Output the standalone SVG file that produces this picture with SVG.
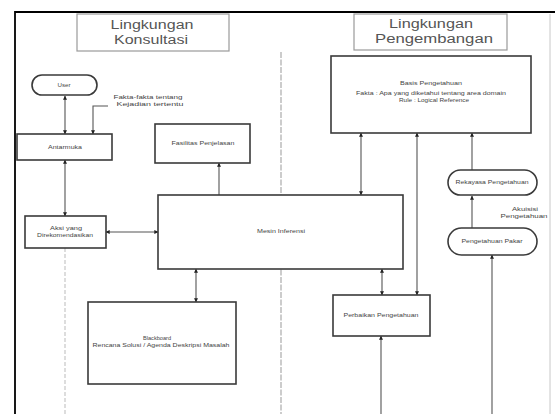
<svg xmlns="http://www.w3.org/2000/svg" width="555" height="414" viewBox="0 0 555 414">
<style>
.box{fill:#fff;stroke:#3a3a3a;stroke-width:1.6}
.title{fill:#fff;stroke:#9a9a9a;stroke-width:1.2}
.tt{font-family:"Liberation Sans",Arial,sans-serif;font-size:12.5px;fill:#555;text-anchor:middle}
.t{font-family:"Liberation Sans",Arial,sans-serif;font-size:4.8px;fill:#444;text-anchor:middle}
.c{fill:none;stroke:#555;stroke-width:1.1}
.b{fill:none;stroke:#000;stroke-width:1.8}
</style>
<defs>
<marker id="ah" viewBox="0 0 6 6" refX="5.5" refY="3" markerWidth="4" markerHeight="4" markerUnits="userSpaceOnUse" orient="auto-start-reverse">
<path d="M0,0 L6,3 L0,6 z" fill="#222"/>
</marker>
</defs>
<rect width="555" height="414" fill="#fff"/>
<g id="frame">
<path class="b" d="M15,414 V12 H555"/>
<line x1="550" y1="14" x2="550" y2="414" stroke="#c8c8c8" stroke-width="1"/>
<line x1="281" y1="52" x2="281" y2="414" stroke="#999" stroke-width="1" stroke-dasharray="6,1.5"/>
<line x1="65" y1="248" x2="65" y2="414" stroke="#bbb" stroke-width="1" stroke-dasharray="4,2"/>
</g>
<g id="title-konsultasi">
<rect class="title" x="77" y="14" width="152" height="37"/>
<text class="tt" x="152" y="29" textLength="83" lengthAdjust="spacingAndGlyphs">Lingkungan</text>
<text class="tt" x="151" y="44" textLength="74" lengthAdjust="spacingAndGlyphs">Konsultasi</text>
</g>
<g id="title-pengembangan">
<rect class="title" x="354" y="14" width="153" height="36"/>
<text class="tt" x="431" y="28" textLength="84" lengthAdjust="spacingAndGlyphs">Lingkungan</text>
<text class="tt" x="434" y="43" textLength="118" lengthAdjust="spacingAndGlyphs">Pengembangan</text>
</g>
<g id="connectors">
<line class="c" x1="65" y1="96" x2="65" y2="134" marker-start="url(#ah)" marker-end="url(#ah)"/>
<path class="c" d="M108,106 H93 V134" marker-end="url(#ah)"/>
<line class="c" x1="65" y1="160" x2="65" y2="216" marker-start="url(#ah)" marker-end="url(#ah)"/>
<line class="c" x1="106" y1="232" x2="158" y2="232" marker-start="url(#ah)" marker-end="url(#ah)"/>
<line class="c" x1="219" y1="195" x2="219" y2="163" marker-end="url(#ah)"/>
<line class="c" x1="196" y1="269" x2="196" y2="302" marker-start="url(#ah)" marker-end="url(#ah)"/>
<line class="c" x1="361" y1="133" x2="361" y2="195" marker-start="url(#ah)" marker-end="url(#ah)"/>
<line class="c" x1="417" y1="133" x2="417" y2="295" marker-start="url(#ah)" marker-end="url(#ah)"/>
<line class="c" x1="472" y1="170" x2="472" y2="133" marker-end="url(#ah)"/>
<line class="c" x1="472" y1="228" x2="472" y2="196" marker-end="url(#ah)"/>
<line class="c" x1="492" y1="414" x2="492" y2="255" marker-end="url(#ah)"/>
<line class="c" x1="382" y1="269" x2="382" y2="295" marker-start="url(#ah)" marker-end="url(#ah)"/>
<line class="c" x1="381" y1="414" x2="381" y2="336" marker-end="url(#ah)"/>
</g>
<g id="user">
<rect class="box" x="32" y="75" width="65" height="20" rx="10"/>
<text class="t" x="64" y="87" textLength="13" lengthAdjust="spacingAndGlyphs">User</text>
</g>
<g id="fakta-label">
<text class="t" x="148" y="99" textLength="69" lengthAdjust="spacingAndGlyphs">Fakta-fakta tentang</text>
<text class="t" x="150" y="106" textLength="67" lengthAdjust="spacingAndGlyphs">Kejadian tertentu</text>
</g>
<g id="antarmuka">
<rect class="box" x="17" y="134" width="95" height="26"/>
<text class="t" x="65" y="148.5" textLength="34" lengthAdjust="spacingAndGlyphs">Antarmuka</text>
</g>
<g id="fasilitas">
<rect class="box" x="155" y="124" width="95" height="39"/>
<text class="t" x="203" y="145" textLength="63" lengthAdjust="spacingAndGlyphs">Fasilitas Penjelasan</text>
</g>
<g id="aksi">
<rect class="box" x="25" y="216" width="81" height="32"/>
<text class="t" x="66" y="230" textLength="32" lengthAdjust="spacingAndGlyphs">Aksi yang</text>
<text class="t" x="65" y="236.5" textLength="56" lengthAdjust="spacingAndGlyphs">Direkomendasikan</text>
</g>
<g id="mesin">
<rect class="box" x="158" y="195" width="245" height="74"/>
<text class="t" x="281" y="233" textLength="48" lengthAdjust="spacingAndGlyphs">Mesin Inferensi</text>
</g>
<g id="blackboard">
<rect class="box" x="88" y="302" width="148" height="82"/>
<text class="t" x="157" y="340" textLength="28" lengthAdjust="spacingAndGlyphs">Blackboard</text>
<text class="t" x="161" y="346.5" textLength="137" lengthAdjust="spacingAndGlyphs">Rencana Solusi / Agenda Deskripsi Masalah</text>
</g>
<g id="basis">
<rect class="box" x="331" y="56" width="200" height="77"/>
<text class="t" x="431" y="85" textLength="62" lengthAdjust="spacingAndGlyphs">Basis Pengetahuan</text>
<text class="t" x="431" y="95" textLength="150" lengthAdjust="spacingAndGlyphs">Fakta : Apa yang diketahui tentang area domain</text>
<text class="t" x="434" y="101.5" textLength="70" lengthAdjust="spacingAndGlyphs">Rule : Logical Reference</text>
</g>
<g id="rekayasa">
<rect class="box" x="448" y="170" width="89" height="25" rx="12.5"/>
<text class="t" x="492" y="184" textLength="73" lengthAdjust="spacingAndGlyphs">Rekayasa Pengetahuan</text>
</g>
<g id="akuisisi-label">
<text class="t" x="525" y="211" textLength="26" lengthAdjust="spacingAndGlyphs">Akuisisi</text>
<text class="t" x="524" y="218" textLength="47" lengthAdjust="spacingAndGlyphs">Pengetahuan</text>
</g>
<g id="pakar">
<rect class="box" x="448" y="228" width="89" height="27" rx="13.5"/>
<text class="t" x="492" y="243" textLength="61" lengthAdjust="spacingAndGlyphs">Pengetahuan Pakar</text>
</g>
<g id="perbaikan">
<rect class="box" x="333" y="295" width="97" height="41"/>
<text class="t" x="381" y="317" textLength="75" lengthAdjust="spacingAndGlyphs">Perbaikan Pengetahuan</text>
</g>
</svg>
